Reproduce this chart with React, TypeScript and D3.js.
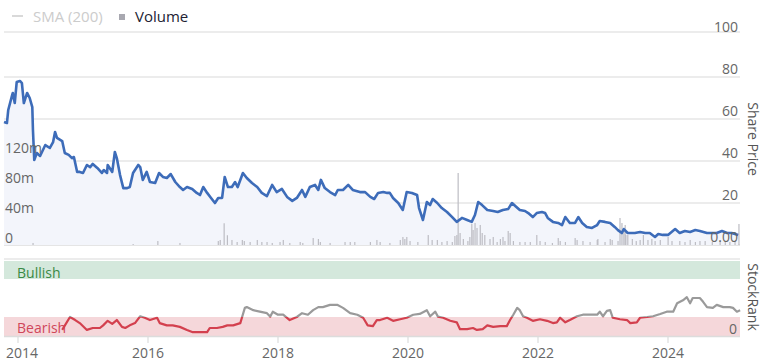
import { useEffect, useRef } from "react";
import * as d3 from "d3";

// share price (decimal year -> price)
const priceYears = [
  2013.785, 2013.83, 2013.85, 2013.91, 2013.92, 2013.95, 2013.98, 2014.03, 2014.06, 2014.09,
  2014.14, 2014.18, 2014.22, 2014.23, 2014.25, 2014.29, 2014.34, 2014.42, 2014.49, 2014.54,
  2014.57, 2014.6, 2014.68, 2014.72, 2014.78, 2014.83, 2014.86, 2014.91, 2014.95, 2015.0,
  2015.06, 2015.11, 2015.15, 2015.22, 2015.29, 2015.32, 2015.37, 2015.38, 2015.45, 2015.49,
  2015.52, 2015.57, 2015.62, 2015.68, 2015.72, 2015.77, 2015.85, 2015.88, 2015.92, 2015.98,
  2016.03, 2016.11, 2016.17, 2016.23, 2016.29, 2016.35, 2016.42, 2016.49, 2016.54, 2016.6,
  2016.68, 2016.75, 2016.8, 2016.85, 2016.91, 2016.97, 2017.03, 2017.08, 2017.14, 2017.18,
  2017.23, 2017.29, 2017.34, 2017.38, 2017.46, 2017.52, 2017.6, 2017.68, 2017.75, 2017.83,
  2017.91, 2017.98, 2018.06, 2018.14, 2018.22, 2018.29, 2018.37, 2018.42, 2018.49, 2018.57,
  2018.62, 2018.66, 2018.72, 2018.8, 2018.88, 2018.92, 2019.0, 2019.08, 2019.15, 2019.26,
  2019.34, 2019.42, 2019.48, 2019.54, 2019.62, 2019.68, 2019.72, 2019.77, 2019.85, 2019.92,
  2019.98, 2020.06, 2020.14, 2020.17, 2020.23, 2020.29, 2020.34, 2020.38, 2020.45, 2020.52,
  2020.6, 2020.68, 2020.75, 2020.83, 2020.91, 2020.98, 2021.03, 2021.08, 2021.14, 2021.22,
  2021.31, 2021.38, 2021.46, 2021.54, 2021.6, 2021.65, 2021.72, 2021.8, 2021.85, 2021.92,
  2021.98, 2022.06, 2022.11, 2022.15, 2022.23, 2022.31, 2022.37, 2022.42, 2022.49, 2022.57,
  2022.62, 2022.68, 2022.75, 2022.83, 2022.91, 2022.95, 2023.03, 2023.11, 2023.18, 2023.23,
  2023.29, 2023.32, 2023.38, 2023.49, 2023.57, 2023.65, 2023.72, 2023.8, 2023.85, 2023.92,
  2024.0, 2024.11, 2024.18, 2024.26, 2024.34, 2024.42, 2024.49, 2024.6, 2024.68, 2024.75,
  2024.83, 2024.91, 2024.98, 2025.08,
];
const priceValues = [
  58.6, 58.1, 64.3, 71.4, 72.4, 67.6, 77.6, 78.1, 77.1, 67.6,
  72.4, 70.0, 65.7, 54.8, 40.5, 43.8, 42.4, 47.6, 46.2, 49.0,
  53.8, 51.0, 49.5, 43.8, 42.9, 41.4, 41.9, 34.8, 34.8, 34.3,
  38.1, 37.1, 38.6, 36.7, 34.3, 35.7, 34.3, 38.1, 34.8, 44.3,
  41.4, 33.3, 27.1, 27.1, 27.6, 34.3, 38.1, 37.1, 31.0, 34.8,
  30.0, 29.5, 34.3, 32.4, 31.9, 33.8, 30.0, 27.6, 26.2, 27.6,
  26.7, 24.8, 23.8, 27.6, 24.8, 22.4, 20.0, 22.4, 22.4, 32.4,
  27.6, 27.6, 30.0, 27.6, 34.3, 31.9, 29.5, 27.6, 24.8, 23.3,
  28.6, 25.2, 26.7, 22.9, 21.0, 22.4, 26.2, 22.9, 27.6, 28.6,
  26.2, 31.0, 27.1, 25.2, 23.8, 26.2, 26.2, 28.6, 26.2, 25.2,
  25.2, 22.9, 21.9, 24.8, 25.2, 24.8, 24.8, 22.4, 20.0, 16.7,
  25.2, 24.8, 23.8, 17.6, 11.9, 20.5, 19.0, 21.9, 20.0, 17.6,
  15.7, 13.3, 11.0, 12.9, 11.9, 11.0, 14.3, 20.5, 19.0, 16.7,
  16.2, 15.7, 16.7, 17.1, 20.0, 18.6, 16.7, 16.2, 15.2, 13.3,
  15.2, 15.7, 15.2, 12.9, 11.0, 10.5, 9.5, 13.3, 10.5, 10.5,
  13.3, 10.5, 8.6, 8.1, 9.5, 11.4, 11.0, 10.5, 8.6, 7.1,
  5.7, 7.6, 5.7, 5.7, 6.2, 5.7, 5.7, 3.8, 5.2, 4.8,
  4.8, 7.6, 5.7, 6.7, 6.2, 7.1, 6.7, 5.7, 5.7, 5.7,
  6.7, 5.7, 5.7, 4.8,
];

// StockRank (decimal year -> rank 0..100)
const rankYears = [
  2014.68, 2014.8, 2014.88, 2014.95, 2015.06, 2015.15, 2015.26, 2015.31, 2015.38, 2015.45,
  2015.52, 2015.6, 2015.65, 2015.72, 2015.8, 2015.88, 2015.95, 2016.03, 2016.14, 2016.18,
  2016.29, 2016.38, 2016.49, 2016.6, 2016.69, 2016.8, 2016.91, 2016.95, 2017.06, 2017.15,
  2017.22, 2017.31, 2017.42, 2017.49, 2017.52, 2017.62, 2017.72, 2017.83, 2017.88, 2017.92,
  2018.0, 2018.08, 2018.18, 2018.29, 2018.37, 2018.46, 2018.54, 2018.62, 2018.69, 2018.8,
  2018.91, 2019.0, 2019.11, 2019.22, 2019.31, 2019.38, 2019.46, 2019.52, 2019.57, 2019.68,
  2019.77, 2019.88, 2019.98, 2020.08, 2020.18, 2020.29, 2020.34, 2020.42, 2020.46, 2020.54,
  2020.65, 2020.75, 2020.8, 2020.91, 2021.0, 2021.06, 2021.15, 2021.22, 2021.31, 2021.42,
  2021.52, 2021.57, 2021.62, 2021.68, 2021.72, 2021.77, 2021.83, 2021.92, 2022.03, 2022.14,
  2022.23, 2022.29, 2022.34, 2022.42, 2022.49, 2022.6, 2022.69, 2022.8, 2022.91, 2022.95,
  2023.0, 2023.06, 2023.11, 2023.15, 2023.26, 2023.37, 2023.42, 2023.52, 2023.57, 2023.68,
  2023.77, 2023.88, 2023.98, 2024.08, 2024.14, 2024.23, 2024.29, 2024.34, 2024.38, 2024.49,
  2024.54, 2024.6, 2024.69, 2024.75, 2024.85, 2024.95, 2025.0, 2025.06, 2025.11,
];
const rankValues = [
  8, 25, 21, 17, 8, 10.5, 10.5, 14, 20, 16,
  21, 12, 10.5, 14, 17, 26, 24, 21, 24, 17,
  14, 14, 12, 8, 5, 5, 5, 10.5, 10.5, 12,
  14, 14, 17, 37, 38, 34, 32, 30, 25.5, 32,
  28, 28, 21, 25, 30, 28, 34, 38, 38, 41,
  41, 37, 30, 28, 24, 14, 13, 21, 21, 24,
  20, 22, 24, 28, 29, 34, 26, 32, 25.5, 24,
  20, 18, 9, 9, 10.5, 8, 9, 14, 12, 13,
  13, 21, 28, 37, 34, 26, 24, 20, 22, 20,
  17, 18, 24, 18, 21, 26, 28, 28, 28, 32,
  26, 33, 34, 24, 22, 21, 17, 18, 24, 25,
  26, 29, 32, 32, 43, 47, 51, 43, 50, 50,
  45, 38, 37, 41, 38, 38, 37, 32, 34,
];

// volume in millions
const volumeYears = [
  2014.23, 2015.77, 2016.15, 2016.49, 2017.08, 2017.11, 2017.17, 2017.22, 2017.29, 2017.37,
  2017.45, 2017.48, 2017.57, 2017.68, 2017.75, 2017.83, 2017.91, 2018.03, 2018.08, 2018.18,
  2018.34, 2018.38, 2018.54, 2018.62, 2018.65, 2018.8, 2019.03, 2019.11, 2019.18, 2019.42,
  2019.52, 2019.57, 2019.72, 2019.88, 2019.92, 2019.95, 2019.98, 2020.03, 2020.15, 2020.31,
  2020.37, 2020.45, 2020.52, 2020.6, 2020.68, 2020.72, 2020.75, 2020.77, 2020.8, 2020.85,
  2020.92, 2020.95, 2020.98, 2021.0, 2021.03, 2021.06, 2021.11, 2021.14, 2021.18, 2021.26,
  2021.31, 2021.37, 2021.42, 2021.46, 2021.49, 2021.54, 2021.57, 2021.62, 2021.72, 2021.8,
  2021.88, 2021.98, 2022.03, 2022.11, 2022.22, 2022.31, 2022.34, 2022.42, 2022.57, 2022.6,
  2022.69, 2022.8, 2022.91, 2022.92, 2023.03, 2023.11, 2023.14, 2023.23, 2023.26, 2023.29,
  2023.32, 2023.34, 2023.35, 2023.38, 2023.45, 2023.51, 2023.57, 2023.62, 2023.69, 2023.75,
  2023.8, 2023.88, 2024.0, 2024.06, 2024.18, 2024.26, 2024.34, 2024.42, 2024.49, 2024.57,
  2024.68, 2024.8, 2024.88, 2024.95, 2025.03, 2025.09,
];
const volumeValues = [
  2.7, 1.3, 5.3, 2.7, 5.3, 6.7, 29, 13, 6.7, 4,
  6.7, 5.3, 4, 6.7, 4, 4, 2.7, 4, 6.7, 2.7,
  4, 2.7, 9.3, 8, 4, 2.7, 4, 4, 4, 4,
  6.7, 4, 2.7, 6.7, 10.7, 8, 10.7, 5.3, 4, 13.3,
  6.7, 6.7, 4, 5.3, 4, 12, 13.3, 96, 16, 8,
  5.3, 10.7, 28, 20, 29.3, 22.7, 26.7, 16, 13.3, 8,
  10.7, 4, 8, 10.7, 5.3, 18.7, 16, 5.3, 4, 4,
  4, 13.3, 5.3, 4, 2.7, 9.3, 5.3, 4, 9.3, 6.7,
  5.3, 4, 6.7, 8, 4, 8, 6.7, 5.3, 36, 29.3,
  18.7, 26.7, 13.3, 13.3, 8, 5.3, 6.7, 13.3, 6.7, 8,
  5.3, 6.7, 10.7, 5.3, 5.3, 4, 6.7, 4, 5.3, 5.3,
  4, 5.3, 4, 4, 5.3, 28,
];

const yearTicks = [2014, 2016, 2018, 2020, 2022, 2024];
const priceTicks = [0, 20, 40, 60, 80, 100];
const volumeTicks = [0, 40, 80, 120];
const rankTicks = [0];

const FONT = "'Open Sans', 'DejaVu Sans', sans-serif";

export default function App() {
  const svgRef = useRef<SVGSVGElement>(null);

  useEffect(() => {
    const svg = svgRef.current;
    if (!svg) return;
    const sel = d3.select(svg);
    sel.selectAll("*").remove();

    const left = 4;
    const right = 740;
    const plotTop = 32;

    const x = d3.scaleLinear().domain([2014, 2024]).range([18, 668]);
    const yPrice = d3.scaleLinear().domain([0, 100]).range([245, 35]);
    const yVol = d3.scaleLinear().domain([0, 40]).range([245, 215]);
    const yRank = d3.scaleLinear().domain([0, 100]).range([336, 260]);

    const g = sel.append("g").attr("font-family", FONT);

    // legend
    const legend = g.append("g").attr("transform", "translate(12,16)");
    legend.append("line").attr("x1", 0).attr("x2", 11).attr("y1", 0).attr("y2", 0)
      .attr("stroke", "#cccccc").attr("stroke-width", 1.5);
    legend.append("text").attr("x", 21).attr("y", 0).attr("dominant-baseline", "central")
      .attr("font-size", 15).attr("fill", "#cccccc").text("SMA (200)");
    legend.append("rect").attr("x", 107).attr("y", -2).attr("width", 6).attr("height", 6)
      .attr("fill", "#a8a8b0");
    legend.append("text").attr("x", 123).attr("y", 0).attr("dominant-baseline", "central")
      .attr("font-size", 15).attr("fill", "#222233").text("Volume");

    // top border + price grid
    g.append("line").attr("x1", left).attr("x2", right).attr("y1", plotTop).attr("y2", plotTop)
      .attr("stroke", "#e6e6e6").attr("stroke-width", 1.5);
    g.selectAll("line.pgrid")
      .data(priceTicks.filter((d) => d < 100))
      .enter()
      .append("line")
      .attr("class", "pgrid")
      .attr("x1", left).attr("x2", right)
      .attr("y1", (d) => yPrice(d)).attr("y2", (d) => yPrice(d))
      .attr("stroke", (d) => (d === 0 ? "#dcdcdc" : "#e6e6e6"))
      .attr("stroke-width", 1.5);

    // price area
    const pts = priceYears.map((t, i) => [t, priceValues[i]] as [number, number]);
    const area = d3.area<[number, number]>()
      .x((d) => x(d[0]))
      .y0(yPrice(0))
      .y1((d) => yPrice(d[1]));
    g.append("path").attr("d", area(pts)).attr("fill", "#f3f5fb");

    // volume bars
    g.selectAll("rect.vol")
      .data(volumeYears.map((t, i) => ({ t, v: volumeValues[i] })))
      .enter()
      .append("rect")
      .attr("class", "vol")
      .attr("x", (d) => x(d.t) - 0.5)
      .attr("width", 1.2)
      .attr("y", (d) => yVol(d.v))
      .attr("height", (d) => yVol(0) - yVol(d.v))
      .attr("fill", "#bdbdc4");

    // price line
    const line = d3.line<[number, number]>()
      .x((d) => x(d[0]))
      .y((d) => yPrice(d[1]));
    g.append("path").attr("d", line(pts)).attr("fill", "none")
      .attr("stroke", "#3d6cb9").attr("stroke-width", 2.6).attr("stroke-linejoin", "round");

    // volume labels (left)
    g.selectAll("text.vlab")
      .data(volumeTicks)
      .enter()
      .append("text")
      .attr("class", "vlab")
      .attr("x", 5)
      .attr("y", (d) => yVol(d) - 8)
      .attr("dominant-baseline", "central")
      .attr("font-size", 14)
      .attr("fill", "#666666")
      .text((d) => (d === 0 ? "0" : `${d}m`));

    // price labels (right)
    g.selectAll("text.plab")
      .data(priceTicks)
      .enter()
      .append("text")
      .attr("class", "plab")
      .attr("x", 738)
      .attr("y", (d) => yPrice(d) - 8.5)
      .attr("text-anchor", "end")
      .attr("dominant-baseline", "central")
      .attr("font-size", 14)
      .attr("fill", "#666666")
      .text((d) => (d === 0 ? "0.00" : String(d)));

    g.append("text")
      .attr("transform", `translate(753,139) rotate(90)`)
      .attr("text-anchor", "middle")
      .attr("dominant-baseline", "central")
      .attr("font-size", 14)
      .attr("fill", "#555555")
      .text("Share Price");

    // StockRank panel
    g.append("line").attr("x1", left).attr("x2", right).attr("y1", 259).attr("y2", 259)
      .attr("stroke", "#e6e6e6").attr("stroke-width", 1.5);
    g.append("rect").attr("x", left).attr("width", right - left)
      .attr("y", yRank(100) + 1).attr("height", yRank(75) - yRank(100) - 1)
      .attr("fill", "#d4e8dc");
    g.append("rect").attr("x", left).attr("width", right - left)
      .attr("y", yRank(25)).attr("height", yRank(0) - yRank(25))
      .attr("fill", "#f5d7da");
    g.append("text").attr("x", 17).attr("y", 278).attr("font-size", 14)
      .attr("fill", "#3a8a45").text("Bullish");
    g.append("text").attr("x", 17).attr("y", 333).attr("font-size", 14)
      .attr("fill", "#d0475a").text("Bearish");

    const rpts = rankYears.map((t, i) => [t, rankValues[i]] as [number, number]);
    const rline = d3.line<[number, number]>()
      .x((d) => x(d[0]))
      .y((d) => yRank(d[1]));
    const defs = sel.append("defs");
    defs.append("clipPath").attr("id", "rank-hi").append("rect")
      .attr("x", 0).attr("width", 763).attr("y", 250).attr("height", yRank(25) - 250);
    defs.append("clipPath").attr("id", "rank-lo").append("rect")
      .attr("x", 0).attr("width", 763).attr("y", yRank(25)).attr("height", 360 - yRank(25));
    g.append("path").attr("d", rline(rpts)).attr("fill", "none")
      .attr("stroke", "#9a9a9a").attr("stroke-width", 2.2).attr("stroke-linejoin", "round")
      .attr("clip-path", "url(#rank-hi)");
    g.append("path").attr("d", rline(rpts)).attr("fill", "none")
      .attr("stroke", "#d3404e").attr("stroke-width", 2.2).attr("stroke-linejoin", "round")
      .attr("clip-path", "url(#rank-lo)");

    g.selectAll("text.rlab")
      .data(rankTicks)
      .enter()
      .append("text")
      .attr("class", "rlab")
      .attr("x", 737)
      .attr("y", (d) => yRank(d) - 8)
      .attr("text-anchor", "end")
      .attr("dominant-baseline", "central")
      .attr("font-size", 14)
      .attr("fill", "#666666")
      .text((d) => String(d));

    g.append("text")
      .attr("transform", `translate(753,297) rotate(90)`)
      .attr("text-anchor", "middle")
      .attr("dominant-baseline", "central")
      .attr("font-size", 14)
      .attr("fill", "#555555")
      .text("StockRank");

    // x axis
    g.append("line").attr("x1", left).attr("x2", right).attr("y1", 336.5).attr("y2", 336.5)
      .attr("stroke", "#dcdcdc").attr("stroke-width", 1.5);
    g.selectAll("line.xtick")
      .data(yearTicks)
      .enter()
      .append("line")
      .attr("class", "xtick")
      .attr("x1", (d) => x(d)).attr("x2", (d) => x(d))
      .attr("y1", 336).attr("y2", 343)
      .attr("stroke", "#dcdcdc").attr("stroke-width", 1.2);
    g.selectAll("text.xlab")
      .data(yearTicks)
      .enter()
      .append("text")
      .attr("class", "xlab")
      .attr("x", (d) => Math.max(x(d), 22))
      .attr("y", 352)
      .attr("text-anchor", "middle")
      .attr("dominant-baseline", "central")
      .attr("font-size", 14)
      .attr("fill", "#666666")
      .text((d) => String(d));
  }, []);

  return (
    <svg
      ref={svgRef}
      width={763}
      height={360}
      style={{ position: "absolute", left: 0, top: 0, background: "#ffffff" }}
    />
  );
}
